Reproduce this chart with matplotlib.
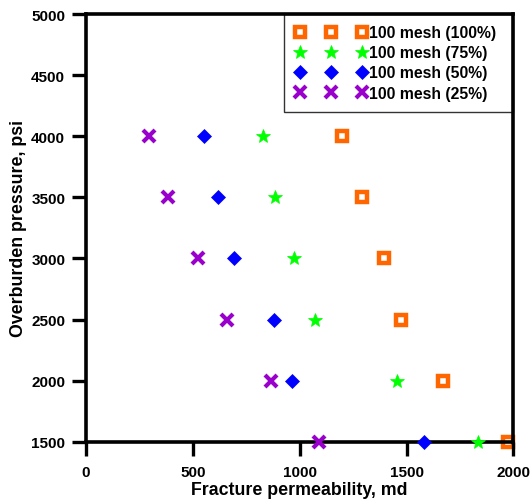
import matplotlib
matplotlib.use("Agg")
import matplotlib.pyplot as plt

plt.rcParams['font.family'] = ['Liberation Sans', 'DejaVu Sans']
plt.rcParams['font.weight'] = 'bold'

# Data
pressure = [4000, 3500, 3000, 2500, 2000, 1500]
perm_100 = [1200, 1293, 1393, 1472, 1672, 1975]
perm_75 = [826, 884, 974, 1073, 1454, 1836]
perm_50 = [553, 619, 693, 881, 965, 1581]
perm_25 = [293, 384, 525, 661, 866, 1089]

labels = ['100 mesh (100%)', '100 mesh (75%)', '100 mesh (50%)', '100 mesh (25%)']

fig = plt.figure(figsize=(5.31, 5.02), dpi=100)
ax = fig.add_axes([0.162, 0.118, 0.805, 0.852])

ax.plot(perm_100, pressure, 's', ms=7.6, mfc='none', mec='#FF6600', mew=3.2,
        label=labels[0], clip_on=False, zorder=1)
ax.plot(perm_75, pressure, '*', ms=10.5, color='#00FF00', mec='#00FF00', mew=0.5,
        label=labels[1], clip_on=False, zorder=5)
ax.plot(perm_50, pressure, 'D', ms=7.2, color='#0000FF', mec='#0000FF', mew=0.5,
        label=labels[2], clip_on=False, zorder=5)
ax.plot(perm_25, pressure, 'x', ms=8.5, color='#9900CC', mew=3,
        label=labels[3], clip_on=False, zorder=5)

ax.set_xlim(0, 2000)
ax.set_ylim(1500, 5000)
ax.set_xticks([0, 500, 1000, 1500, 2000])
ax.set_yticks(range(1500, 5001, 500))

for s in ax.spines.values():
    s.set_linewidth(2.6)
    s.set_zorder(3)
ax.tick_params(direction='out', length=10, width=2.4, labelsize=11)
ax.tick_params(axis='x', pad=7)
ax.tick_params(axis='y', pad=5)

ax.set_xlabel('Fracture permeability, md', fontsize=12.8, fontweight='bold', labelpad=1.5)
ax.set_ylabel('Overburden pressure, psi', fontsize=12.8, fontweight='bold', labelpad=3)

leg = ax.legend(loc='upper left', bbox_to_anchor=(0.463, 0, 0.537, 1), mode='expand',
                numpoints=3, prop={'size': 11.3, 'weight': 'bold'},
                frameon=True, fancybox=False, borderaxespad=0, handletextpad=0.2,
                labelspacing=0.33, handlelength=4.55, borderpad=0.7)
leg.get_frame().set_edgecolor('black')
leg.get_frame().set_linewidth(1)
leg.set_zorder(2)

fig.savefig('out.png', dpi=100)
